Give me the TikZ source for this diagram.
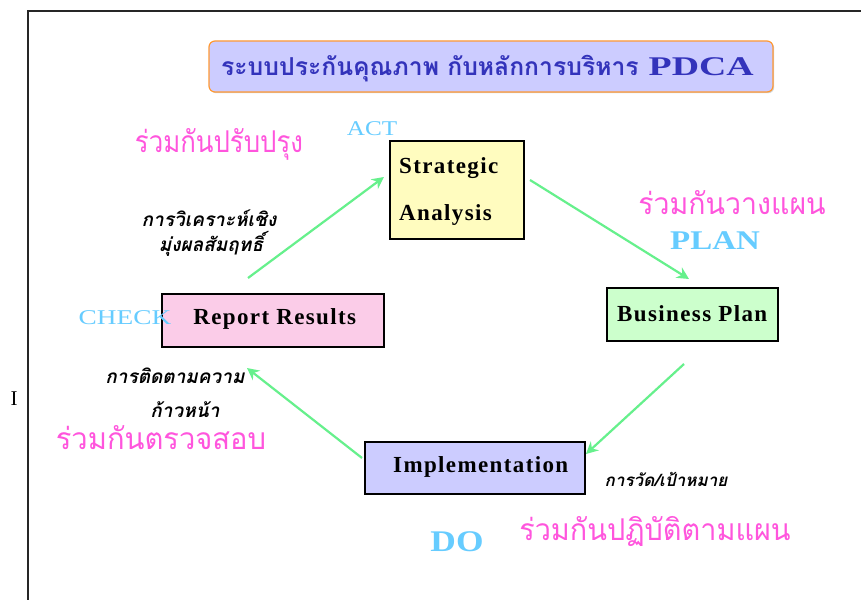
\documentclass[tikz,border=0pt]{standalone}
\usepackage{fontspec}
\usepackage{graphicx}
\setmainfont{Liberation Serif}
\newfontfamily\thai[Script=Thai]{Loma}
\newfontfamily\boxfont[LetterSpace=6]{Liberation Serif}
\usetikzlibrary{arrows.meta,shadows}
\definecolor{lav}{HTML}{CCCCFF}
\definecolor{cyanlbl}{HTML}{66CCFF}
\definecolor{pinklbl}{HTML}{FF55DD}
\definecolor{arrowgreen}{HTML}{66F08C}
\definecolor{titleblue}{HTML}{3333BB}
\definecolor{orangeb}{HTML}{FF9933}
\newcommand{\hstretch}[2]{\scalebox{#1}[1]{#2}}
\tikzset{
  x=1pt,y=-1pt,
  box/.style={draw=black,line width=1.5pt,inner sep=0pt,anchor=north west},
  boxtext/.style={font=\boxfont\bfseries\fontsize{23}{26}\selectfont,inner sep=0pt},
  cyclearrow/.style={draw=arrowgreen,line width=2.2pt,-{Stealth[length=12pt,width=12pt]}},
  pinklabel/.style={text=pinklbl,font=\thai\fontsize{30}{32}\selectfont,inner sep=0pt},
  cyanlabel/.style={text=cyanlbl,inner sep=0pt},
  notelabel/.style={text=black,font=\thai\bfseries\itshape\fontsize{19}{21}\selectfont,inner sep=0pt}
}
\begin{document}
\begin{tikzpicture}
\useasboundingbox (0,0) rectangle (861,599);
\fill[white] (0,0) rectangle (861,599);
% frame
\draw[line width=1.5pt,black!85] (28,605) -- (28,11) -- (870,11);
\node[inner sep=0pt,font=\fontsize{21}{23}\selectfont] (marker) at (14,399) {I};

% title
\node[draw=orangeb,fill=lav,line width=1.2pt,rounded corners=6pt,
      minimum width=564pt,minimum height=51pt,inner sep=0pt,
      drop shadow={shadow xshift=1.2pt,shadow yshift=-1.2pt,fill=gray!70}]
      (title) at (491,66.5) {};
\node[text=titleblue,inner sep=0pt,anchor=base west] (titletext) at (221,76)
  {{\thai\bfseries\fontsize{24.7}{26}\selectfont ระบบประกันคุณภาพ กับหลักการบริหาร}\hspace{10pt}{\bfseries\fontsize{27}{30}\selectfont\hstretch{1.4}{PDCA}}};

% boxes
\node[box,fill=yellow!25!white,minimum width=134pt,minimum height=98pt] (sa) at (389,140) {};
\node[boxtext,anchor=base west] (satext1) at (399,173) {Strategic};
\node[boxtext,anchor=base west] (satext2) at (399,220) {Analysis};

\node[box,fill=green!20!white,minimum width=171pt,minimum height=53pt] (bp) at (606,287) {};
\node[boxtext] (bptext) at ([yshift=1pt]bp.center) {Business Plan};

\node[box,fill=magenta!20!white,minimum width=222pt,minimum height=53pt] (rr) at (161,293) {};
\node[boxtext] (rrtext) at ([xshift=2pt,yshift=1pt]rr.center) {Report Results};

\node[box,fill=lav,minimum width=220pt,minimum height=52pt] (im) at (364,441) {};
\node[boxtext] (imtext) at ([xshift=6pt,yshift=1pt]im.center) {Implementation};

% connector coordinates
\coordinate (a1s) at (248,278);
\coordinate (a1e) at (384,177);
\coordinate (a2s) at (530,180);
\coordinate (a2e) at (689,279);
\coordinate (a3s) at (684,364);
\coordinate (a3e) at (586,454);
\coordinate (a4s) at (362,458);
\coordinate (a4e) at (247,368);
\draw[cyclearrow] (a1s) -- (a1e);
\draw[cyclearrow] (a2s) -- (a2e);
\draw[cyclearrow] (a3s) -- (a3e);
\draw[cyclearrow] (a4s) -- (a4e);

% labels
\node[cyanlabel,font=\fontsize{21}{23}\selectfont] (act) at (372,129) {\hstretch{1.2}{ACT}};
\node[pinklabel] (act2) at (219,144) {\hstretch{0.86}{ร่วมกันปรับปรุง}};
\node[notelabel] (n1a) at (209,218) {การวิเคราะห์เชิง};
\node[notelabel] (n1b) at (211,244) {มุ่งผลสัมฤทธิ์};

\node[pinklabel] (plan2) at (732,203) {\hstretch{0.95}{ร่วมกันวางแผน}};
\node[cyanlabel,font=\bfseries\fontsize{27}{29}\selectfont] (plan) at (715,241) {\hstretch{1.22}{PLAN}};

\node[cyanlabel,font=\fontsize{21}{23}\selectfont] (check) at (125,318) {\hstretch{1.3}{CHECK}};
\node[notelabel] (n4a) at (175,376) {การติดตามความ};
\node[notelabel] (n4b) at (185,410) {ก้าวหน้า};
\node[pinklabel] (check2) at (161,438) {\hstretch{0.97}{ร่วมกันตรวจสอบ}};

\node[notelabel,font=\thai\bfseries\itshape\fontsize{17}{19}\selectfont] (n3) at (666,479) {การวัด/เป้าหมาย};
\node[cyanlabel,font=\bfseries\fontsize{30}{32}\selectfont] (do) at (457,542) {\hstretch{1.18}{DO}};
\node[pinklabel] (do2) at (655,531) {\hstretch{0.96}{ร่วมกันปฏิบัติตามแผน}};
\end{tikzpicture}
\end{document}
